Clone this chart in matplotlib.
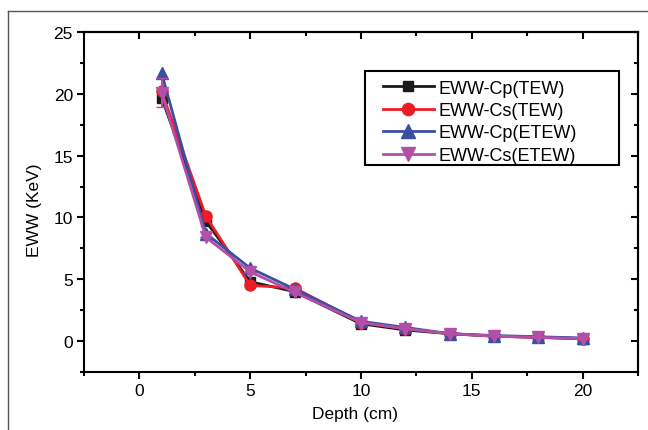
import numpy as np
import matplotlib
matplotlib.use('Agg')
import matplotlib.pyplot as plt
from matplotlib.lines import Line2D
from matplotlib.patches import Rectangle
from matplotlib.ticker import MultipleLocator

plt.rcParams['font.family'] = ['Liberation Sans', 'DejaVu Sans']

depth = [1, 3, 5, 7, 10, 12, 14, 16, 18, 20]
cp_tew = [19.7, 9.7, 4.8, 4.0, 1.4, 0.9, 0.6, 0.4, 0.3, 0.2]
cs_tew = [20.2, 10.1, 4.5, 4.3, 1.5, 1.0, 0.6, 0.4, 0.3, 0.2]
cp_etew = [21.7, 8.7, 5.9, 4.2, 1.6, 1.1, 0.6, 0.45, 0.35, 0.25]
cs_etew = [20.1, 8.4, 5.6, 3.95, 1.5, 1.0, 0.6, 0.4, 0.3, 0.2]
cs_etew_err = [1.2, 0, 0, 0, 0, 0, 0, 0, 0, 0]

labels = ['EWW-Cp(TEW)', 'EWW-Cs(TEW)', 'EWW-Cp(ETEW)', 'EWW-Cs(ETEW)']
colors = ['#1a1a1a', '#ee1c25', '#3a4fa0', '#b44fa8']

fig = plt.figure(figsize=(6.48, 4.31), dpi=100)
ax = fig.add_axes([84/648, 1 - 373/431, (638 - 84)/648, (373 - 33)/431])

ax.plot(depth, cp_tew, '-s', color=colors[0], lw=2, ms=7, label=labels[0])
ax.plot(depth, cs_tew, '-o', color=colors[1], lw=2, ms=8, label=labels[1])
ax.plot(depth, cp_etew, '-^', color=colors[2], lw=2, ms=9, label=labels[2])
ax.errorbar(depth, cs_etew, yerr=cs_etew_err, fmt='none', ecolor=colors[3],
            capsize=4, elinewidth=1.5)
ax.plot(depth, cs_etew, '-v', color=colors[3], lw=2, ms=9, label=labels[3])

ax.set_xlim(-2.5, 22.5)
ax.set_ylim(-2.5, 25)
ax.xaxis.set_major_locator(MultipleLocator(5))
ax.xaxis.set_minor_locator(MultipleLocator(2.5))
ax.yaxis.set_major_locator(MultipleLocator(5))
ax.yaxis.set_minor_locator(MultipleLocator(2.5))

for s in ax.spines.values():
    s.set_linewidth(1.5)
ax.tick_params(which='both', direction='out', top=False, right=False, labelsize=12.5, width=1.5)
ax.tick_params(which='major', length=5, pad=3)
ax.tick_params(which='minor', length=3)

# inward ticks on top and right
sec_x = ax.secondary_xaxis('top')
sec_x.xaxis.set_major_locator(MultipleLocator(5))
sec_x.xaxis.set_minor_locator(MultipleLocator(2.5))
sec_x.tick_params(which='both', direction='in', labeltop=False, width=1.5)
sec_x.tick_params(which='major', length=5)
sec_x.tick_params(which='minor', length=3)
sec_y = ax.secondary_yaxis('right')
sec_y.yaxis.set_major_locator(MultipleLocator(5))
sec_y.yaxis.set_minor_locator(MultipleLocator(2.5))
sec_y.tick_params(which='both', direction='in', labelright=False, width=1.5)
sec_y.tick_params(which='major', length=5)
sec_y.tick_params(which='minor', length=3)
sec_x.spines['top'].set_linewidth(1.5)
sec_y.spines['right'].set_linewidth(1.5)

ax.set_xlabel('Depth (cm)', fontsize=12.5)
ax.set_ylabel('EWW (KeV)', fontsize=12.5)
ax.xaxis.set_label_coords(0.49, -0.1)
ax.yaxis.set_label_coords(-0.076, 0.478)

# legend box drawn separately so the frame can be wider than its contents
ax.add_patch(Rectangle((0.507, 0.609), 0.459, 0.276, transform=ax.transAxes,
                       facecolor='white', edgecolor='black', lw=1.5, zorder=4))
leg = ax.legend(loc='upper left', bbox_to_anchor=(0.5397, 0.86), fontsize=13,
                frameon=False, handlelength=2.8, borderpad=0, labelspacing=0.3,
                handletextpad=0.3, borderaxespad=0, numpoints=1, markerscale=1.1)
leg.set_zorder(5)

# outer frame of the page
fig.add_artist(Line2D([8/648, 8/648], [0, 1 - 12/431], color='#555555', lw=1))
fig.add_artist(Line2D([8/648, 1], [1 - 12/431, 1 - 12/431], color='#555555', lw=1))

fig.savefig('out.png', dpi=100)
